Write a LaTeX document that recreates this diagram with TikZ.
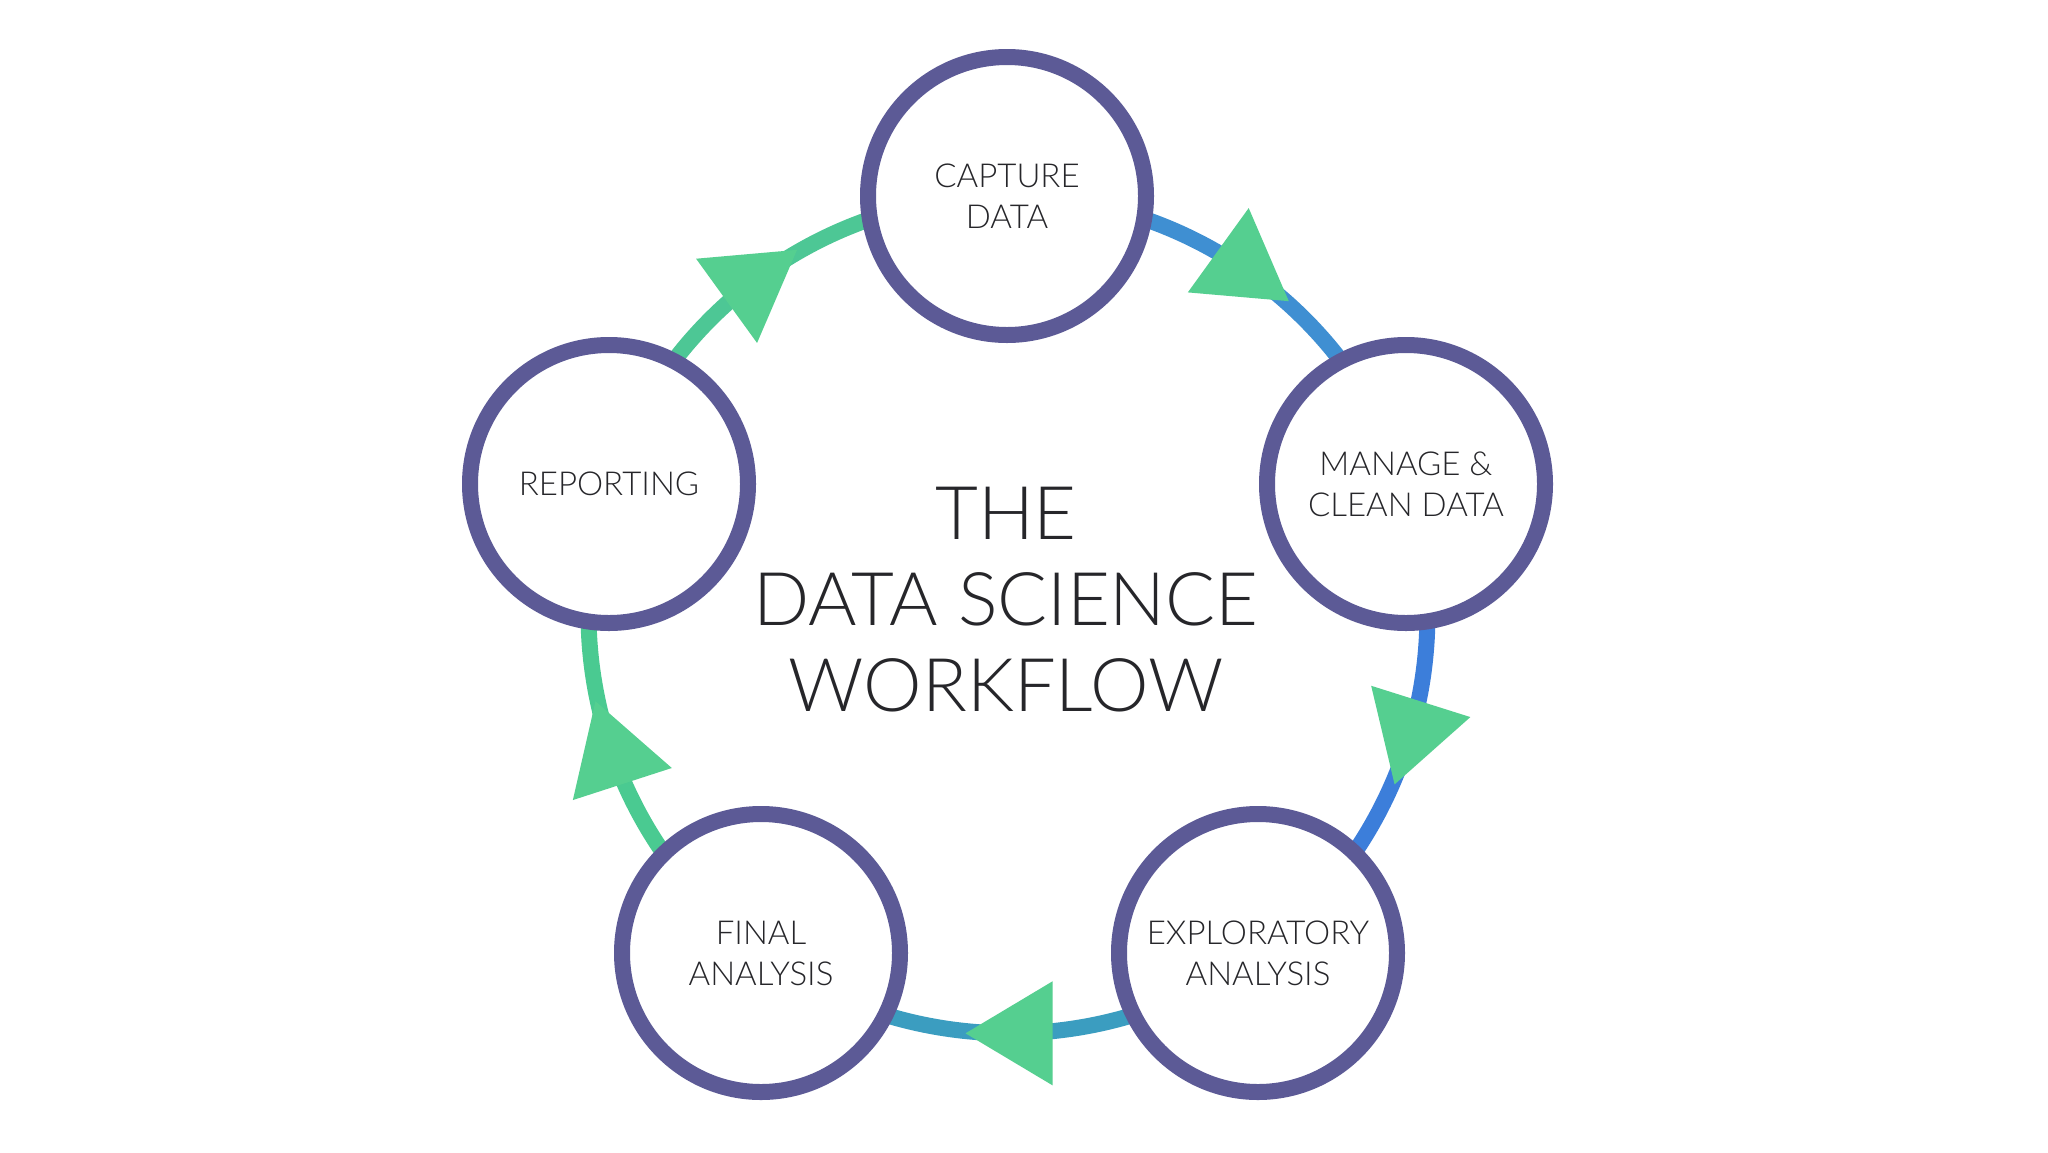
\documentclass[tikz,border=0pt]{standalone}
\usepackage{fontspec}
\setmainfont{Lato Light}
\usetikzlibrary{decorations.markings,backgrounds}
\definecolor{ring}{HTML}{5C5A96}
\definecolor{tri}{HTML}{55CF90}
\definecolor{txt}{HTML}{26262A}
\definecolor{arcA}{HTML}{3F8FD2}
\definecolor{arcB}{HTML}{3C7EDA}
\definecolor{arcC}{HTML}{3B9DC0}
\definecolor{arcD}{HTML}{4ACA91}
\definecolor{arcE}{HTML}{4DC795}
\tikzset{
  stage/.style={circle, draw=ring, line width=16pt, fill=white, minimum size=278pt,
    inner sep=0pt, align=center, text=txt, font=\fontsize{33}{41}\selectfont},
  flow/.style={draw=#1, line width=16pt, bend left=36, looseness=0.94,
    postaction={decorate},
    decoration={markings, mark=at position 0.5 with
      {\fill[tri] (-43pt,-52pt) -- (44pt,0pt) -- (-43pt,52pt) -- cycle;}}},
  title/.style={align=center, text=txt, font=\fontsize{74}{86}\selectfont}
}
\begin{document}
\begin{tikzpicture}[x=1pt,y=-1pt]
\useasboundingbox (0,0) rectangle (2048,1152);
\node[stage] (cap) at (1007,196) {CAPTURE\\DATA};
\node[stage] (man) at (1406,484) {MANAGE \&\\CLEAN DATA};
\node[stage] (exp) at (1258,953) {EXPLORATORY\\ANALYSIS};
\node[stage] (fin) at (761,953) {FINAL\\ANALYSIS};
\node[stage] (rep) at (609,484) {REPORTING};
\node[title] (ttl) at (1006,600) {THE\\DATA SCIENCE\\WORKFLOW};
\begin{scope}[on background layer]
\fill[white] (0,0) rectangle (2048,1152);
\draw[flow=arcA] (cap.center) to (man.center);
\draw[flow=arcB] (man.center) to (exp.center);
\draw[flow=arcC] (exp.center) to (fin.center);
\draw[flow=arcD] (fin.center) to (rep.center);
\draw[flow=arcE] (rep.center) to (cap.center);
\end{scope}
\end{tikzpicture}
\end{document}
